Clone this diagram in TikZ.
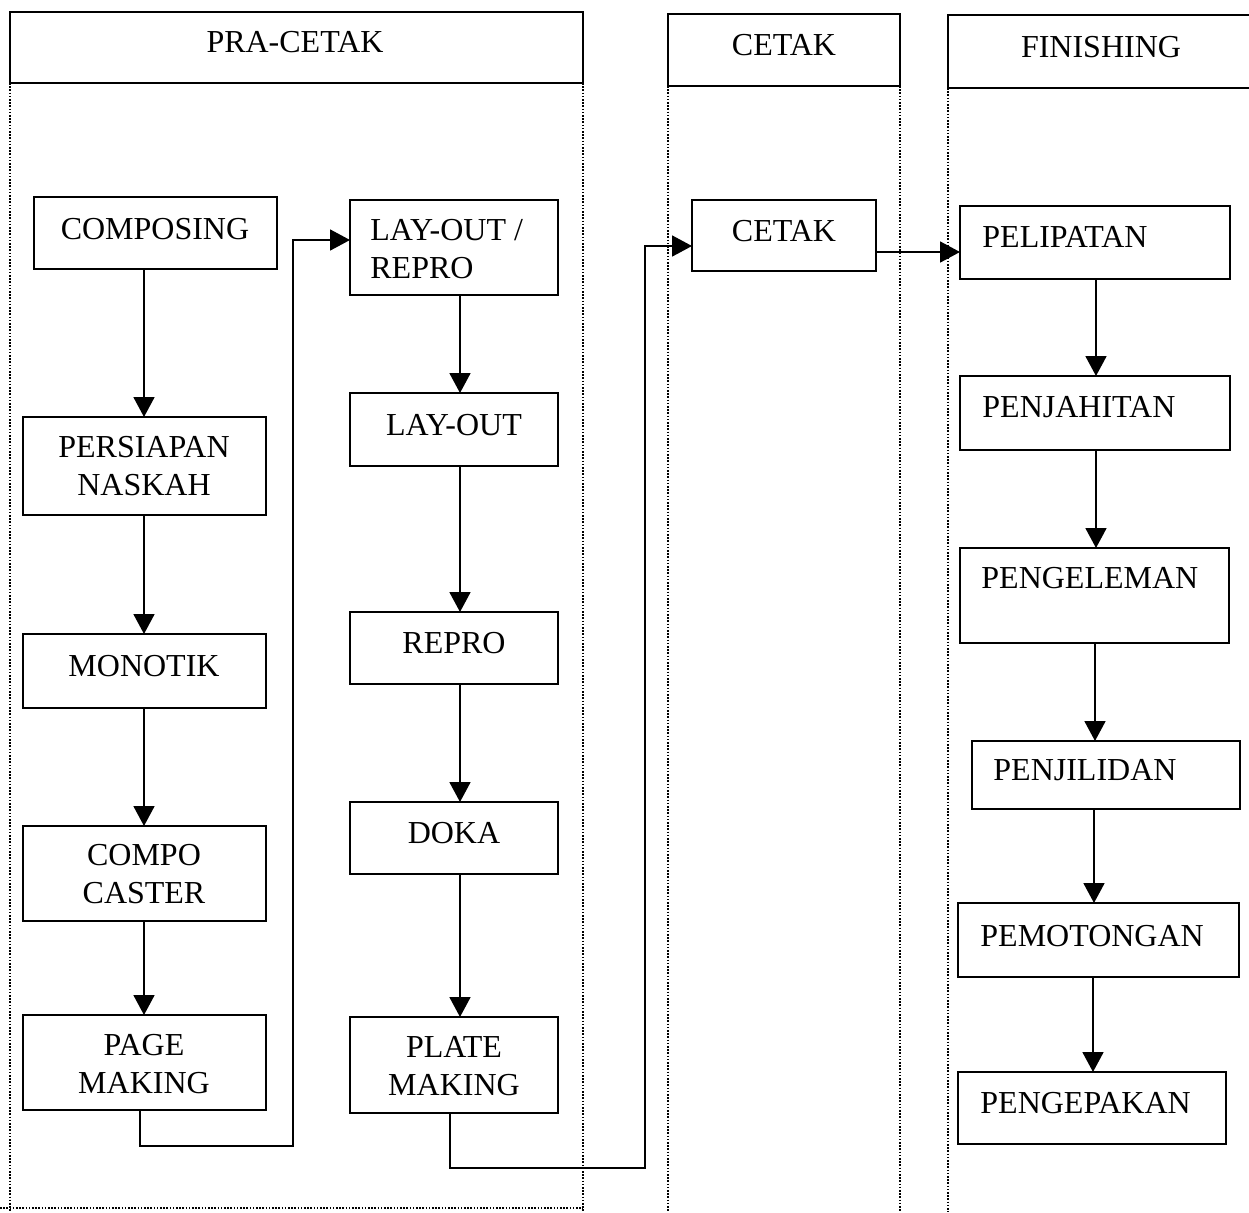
\documentclass[tikz,border=0pt]{standalone}
\usepackage{fontspec}
\setmainfont{Liberation Serif}
\usetikzlibrary{arrows.meta}
\tikzset{
  pb/.style={draw, line width=1pt, rectangle, inner sep=0pt, outer sep=0pt},
  hb/.style={draw, line width=1pt, rectangle, inner sep=0pt, outer sep=0pt},
  tx/.style={inner sep=0pt, font=\fontsize{16}{19}\selectfont},
  arr/.style={line width=0.9pt, -{Triangle[length=10pt,width=10.5pt]}},
  lnk/.style={line width=0.9pt},
  dl/.style={line width=0.8pt, dash pattern=on 0.8pt off 0.8pt}
}
\newcommand\pbox[6][pb]{%
  \node[#1, minimum width={(#5-#3)*0.5pt}, minimum height={(#6-#4)*0.5pt}] (#2) at ({(#3+#5)/2},{(#4+#6)/2}) {};}
\begin{document}
\begin{tikzpicture}[x=0.5pt,y=-0.5pt]
\useasboundingbox (0,0) rectangle (1249,1212);
% headers
\pbox[hb]{hpra}{10}{12}{583}{83}
\node[tx] (hpraT) at (295,42) {PRA-CETAK};
\pbox[hb]{hcetak}{668}{14}{900}{86}
\node[tx] (hcetakT) at (784,45) {CETAK};
\pbox[hb]{hfin}{948}{15}{1262}{88}
\node[tx] (hfinT) at (1101,47) {FINISHING};
% dotted panel lines
\coordinate (d1b) at (10,1212);
\coordinate (d2b) at (583,1212);
\coordinate (d3b) at (668,1212);
\coordinate (d4b) at (900,1212);
\coordinate (d5b) at (948,1212);
\coordinate (d6a) at (0,1208); \coordinate (d6b) at (583,1208);
\draw[dl] (hpra.south west) -- (d1b);
\draw[dl] (hpra.south east) -- (d2b);
\draw[dl] (hcetak.south west) -- (d3b);
\draw[dl] (hcetak.south east) -- (d4b);
\draw[dl] (hfin.south west) -- (d5b);
\draw[dl] (d6a) -- (d6b);
% left column
\pbox{composing}{34}{197}{277}{269}
\node[tx] (composingT) at (155,229) {COMPOSING};
\pbox{persiapan}{23}{417}{266}{515}
\node[tx, align=center] (persiapanT) at (144,466) {PERSIAPAN\\NASKAH};
\pbox{monotik}{23}{634}{266}{708}
\node[tx] (monotikT) at (144,666) {MONOTIK};
\pbox{compo}{23}{826}{266}{921}
\node[tx, align=center] (compoT) at (144,874) {COMPO\\CASTER};
\pbox{pagemaking}{23}{1015}{266}{1110}
\node[tx, align=center] (pagemakingT) at (144,1064) {PAGE\\MAKING};
% middle column
\pbox{layoutrepro}{350}{200}{558}{295}
\node[tx, align=left, anchor=west] (layoutreproT) at (370,249) {LAY-OUT /\\REPRO};
\pbox{layout}{350}{393}{558}{466}
\node[tx] (layoutT) at (454,425) {LAY-OUT};
\pbox{repro}{350}{612}{558}{684}
\node[tx] (reproT) at (454,643) {REPRO};
\pbox{doka}{350}{802}{558}{874}
\node[tx] (dokaT) at (454,833) {DOKA};
\pbox{platemaking}{350}{1017}{558}{1113}
\node[tx, align=center] (platemakingT) at (454,1066) {PLATE\\MAKING};
% cetak
\pbox{cetak}{692}{200}{876}{271}
\node[tx] (cetakT) at (784,231) {CETAK};
% finishing
\pbox{pelipatan}{960}{206}{1230}{279}
\node[tx, anchor=west] (pelipatanT) at (982,237) {PELIPATAN};
\pbox{penjahitan}{960}{376}{1230}{450}
\node[tx, anchor=west] (penjahitanT) at (982,407) {PENJAHITAN};
\pbox{pengeleman}{960}{548}{1229}{643}
\node[tx, anchor=west] (pengelemanT) at (981,578) {PENGELEMAN};
\pbox{penjilidan}{972}{741}{1240}{809}
\node[tx, anchor=west] (penjilidanT) at (993,770) {PENJILIDAN};
\pbox{pemotongan}{958}{903}{1239}{977}
\node[tx, anchor=west] (pemotonganT) at (980,936) {PEMOTONGAN};
\pbox{pengepakan}{958}{1072}{1226}{1144}
\node[tx, anchor=west] (pengepakanT) at (980,1103) {PENGEPAKAN};
% vertical arrows
\draw[arr] (144,0 |- composing.south) -- (144,0 |- persiapan.north);
\draw[arr] (144,0 |- persiapan.south) -- (144,0 |- monotik.north);
\draw[arr] (144,0 |- monotik.south) -- (144,0 |- compo.north);
\draw[arr] (144,0 |- compo.south) -- (144,0 |- pagemaking.north);
\draw[arr] (460,0 |- layoutrepro.south) -- (460,0 |- layout.north);
\draw[arr] (460,0 |- layout.south) -- (460,0 |- repro.north);
\draw[arr] (460,0 |- repro.south) -- (460,0 |- doka.north);
\draw[arr] (460,0 |- doka.south) -- (460,0 |- platemaking.north);
\draw[arr] (1096,0 |- pelipatan.south) -- (1096,0 |- penjahitan.north);
\draw[arr] (1096,0 |- penjahitan.south) -- (1096,0 |- pengeleman.north);
\draw[arr] (1095,0 |- pengeleman.south) -- (1095,0 |- penjilidan.north);
\draw[arr] (1094,0 |- penjilidan.south) -- (1094,0 |- pemotongan.north);
\draw[arr] (1093,0 |- pemotongan.south) -- (1093,0 |- pengepakan.north);
% elbow connectors
\draw[arr] (140,0 |- pagemaking.south) -- (140,1146) -- (293,1146) -- (293,240) -- (layoutrepro.west |- 293,240);
\draw[arr] (450,0 |- platemaking.south) -- (450,1168) -- (645,1168) -- (645,246) -- (cetak.west |- 645,246);
\draw[arr] (cetak.east |- 0,252) -- (pelipatan.west |- 0,252);
\end{tikzpicture}
\end{document}
